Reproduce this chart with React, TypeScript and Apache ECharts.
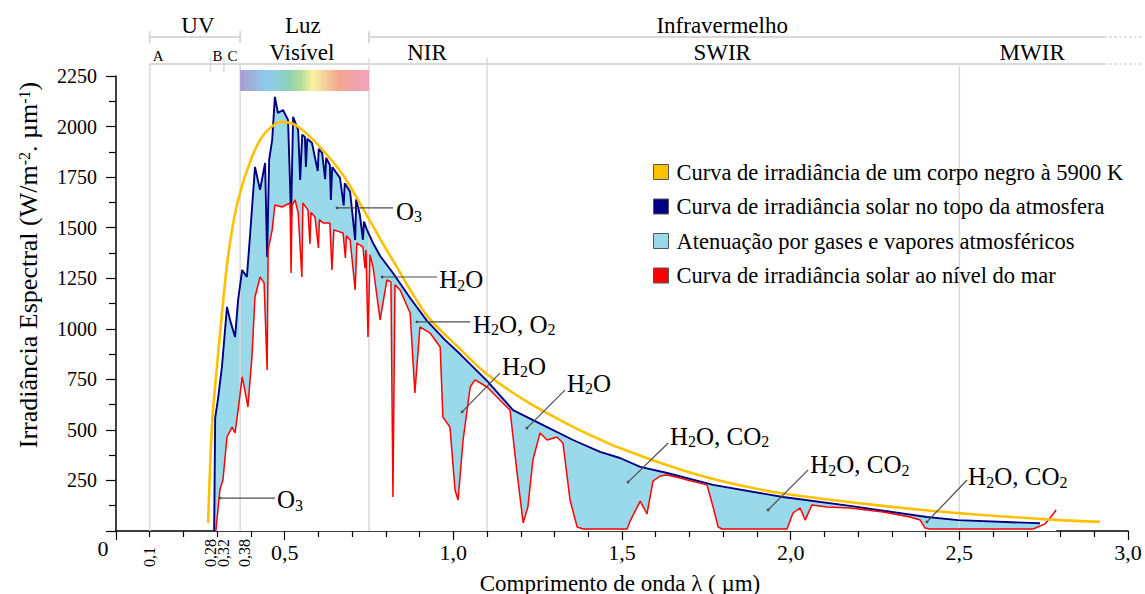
import React, { useEffect, useRef } from 'react';
import * as echarts from 'echarts';

const FONT = '"Liberation Serif", "Times New Roman", Times, serif';

// Wavelength (µm), spectral irradiance (W/m².µm)
const blackbody5900K: [number, number][] = [
  [0.273, 40], [0.285, 534], [0.302, 861], [0.332, 1355], [0.362, 1637], [0.403, 1850],
  [0.442, 1968], [0.492, 2023], [0.531, 2008], [0.575, 1950], [0.62, 1870], [0.673, 1760],
  [0.744, 1560], [0.783, 1445], [0.821, 1338], [0.922, 1065], [1.02, 900], [1.1, 775],
  [1.218, 640], [1.355, 515], [1.435, 452], [1.494, 410], [1.634, 325], [1.782, 252],
  [1.977, 185], [2.226, 133], [2.422, 99], [2.621, 73], [2.799, 54], [2.917, 46],
];

const topOfAtmosphere: [number, number][] = [
  [0.291, 0], [0.294, 559], [0.302, 648], [0.314, 811], [0.329, 1108], [0.338, 1044],
  [0.353, 959], [0.362, 1143], [0.374, 1291], [0.388, 1256], [0.397, 1454], [0.412, 1800],
  [0.427, 1687], [0.442, 1820], [0.448, 1355], [0.454, 1835], [0.463, 1934], [0.471, 2147],
  [0.48, 2067], [0.495, 2082], [0.51, 2033], [0.519, 1553], [0.525, 2048], [0.54, 1983],
  [0.546, 1736], [0.552, 1960], [0.56, 1949], [0.563, 1800], [0.567, 1940], [0.581, 1919],
  [0.598, 1780], [0.601, 1890], [0.611, 1870], [0.62, 1740], [0.623, 1845], [0.634, 1810],
  [0.637, 1637], [0.641, 1800], [0.664, 1746], [0.675, 1610], [0.678, 1720], [0.694, 1677],
  [0.709, 1439], [0.712, 1640], [0.723, 1563], [0.732, 1440], [0.735, 1530], [0.744, 1489],
  [0.762, 1424], [0.783, 1360], [0.821, 1276], [0.872, 1152], [0.922, 1039], [0.975, 945],
  [1.02, 875], [1.1, 742], [1.177, 598], [1.278, 514], [1.355, 450], [1.435, 391],
  [1.494, 361], [1.554, 317], [1.634, 287], [1.77, 228], [1.977, 168], [2.176, 124],
  [2.404, 69], [2.496, 54], [2.71, 40], [2.739, 38],
];

const seaLevel: [number, number][] = [
  [0.296, 0], [0.308, 203], [0.317, 252], [0.329, 465], [0.344, 514], [0.353, 485],
  [0.362, 598], [0.374, 762], [0.382, 697], [0.391, 613], [0.403, 861], [0.412, 1157],
  [0.427, 1256], [0.439, 1227], [0.448, 796], [0.451, 1390], [0.463, 1489], [0.471, 1612],
  [0.492, 1602], [0.516, 1622], [0.519, 1276], [0.522, 1610], [0.531, 1637], [0.54, 1573],
  [0.551, 1256], [0.554, 1622], [0.569, 1588], [0.575, 1420], [0.578, 1575], [0.59, 1553],
  [0.6, 1400], [0.603, 1540], [0.614, 1523], [0.634, 1523], [0.64, 1291], [0.646, 1489],
  [0.673, 1474], [0.68, 1350], [0.683, 1460], [0.694, 1439], [0.709, 1192], [0.714, 1424],
  [0.732, 1405], [0.738, 1300], [0.741, 1390], [0.747, 960], [0.753, 1365], [0.762, 1306],
  [0.783, 1044], [0.803, 1241], [0.815, 1232], [0.821, 168], [0.827, 1217], [0.842, 1192],
  [0.872, 1078], [0.886, 683], [0.901, 1009], [0.931, 979], [0.961, 910], [0.969, 564],
  [0.99, 514], [1.005, 203], [1.014, 153], [1.029, 450], [1.05, 712], [1.064, 747],
  [1.1, 712], [1.138, 648], [1.168, 598], [1.189, 287], [1.207, 40], [1.221, 119],
  [1.236, 351], [1.257, 485], [1.278, 450], [1.307, 465], [1.325, 435], [1.346, 153],
  [1.367, 20], [1.385, 10], [1.515, 10], [1.524, 49], [1.554, 148], [1.574, 84],
  [1.592, 247], [1.613, 272], [1.634, 277], [1.672, 262], [1.702, 248], [1.752, 228],
  [1.77, 119], [1.785, 20], [1.797, 10], [1.989, 10], [2.007, 89], [2.028, 114],
  [2.043, 54], [2.063, 129], [2.108, 119], [2.176, 114], [2.274, 94], [2.354, 69],
  [2.384, 54], [2.398, 15], [2.413, 10], [2.719, 10], [2.754, 35], [2.778, 84], [2.787, 104],
];

const seriesNames = [
  'Curva de irradiância de um corpo negro à 5900 K',
  'Curva de irradiância solar no topo da atmosfera',
  'Atenuação por gases e vapores atmosféricos',
  'Curva de irradiância solar ao nível do mar',
];

const rotatedTickLabels: [number, string][] = [
  [0.1, '0,1'], [0.28, '0,28'], [0.32, '0,32'], [0.38, '0,38'],
];

// spectral regions (row 1 and row 2 of the header)
const regionsTop: [string, number][] = [['UV', 0.243], ['Luz', 0.554], ['Infravermelho', 1.797]];
const regionsSub: [string, number][] = [['Visível', 0.551], ['NIR', 0.922], ['SWIR', 1.797], ['MWIR', 2.716]];
const uvSub: [string, number][] = [['A', 0.125], ['B', 0.301], ['C', 0.345]];
const bandEdges = { uvStart: 0.1, uvB: 0.28, uvC: 0.32, visible: 0.368, nir: 0.75, swir: 1.1, mwir: 2.5 };

// absorption annotations: label, leader start, leader end, label anchor (data units)
const absorptions: { label: string; from: [number, number]; to: [number, number]; at: [number, number] }[] = [
  { label: '{m|O}{s|3}', from: [0.655, 1598], to: [0.821, 1598], at: [0.83, 1578] },
  { label: '{m|H}{s|2}{m|O}', from: [0.789, 1256], to: [0.952, 1256], at: [0.958, 1241] },
  { label: '{m|H}{s|2}{m|O, O}{s|2}', from: [0.892, 1034], to: [1.05, 1034], at: [1.058, 1019] },
  { label: '{m|H}{s|2}{m|O}', from: [1.026, 589], to: [1.138, 781], at: [1.144, 811] },
  { label: '{m|H}{s|2}{m|O}', from: [1.218, 509], to: [1.331, 697], at: [1.337, 727] },
  { label: '{m|H}{s|2}{m|O, CO}{s|2}', from: [1.518, 242], to: [1.637, 435], at: [1.642, 465] },
  { label: '{m|H}{s|2}{m|O, CO}{s|2}', from: [1.933, 104], to: [2.052, 302], at: [2.058, 326] },
  { label: '{m|H}{s|2}{m|O, CO}{s|2}', from: [2.404, 45], to: [2.523, 252], at: [2.526, 267] },
  { label: '{m|O}{s|3}', from: [0.308, 163], to: [0.471, 163], at: [0.477, 153] },
];

const C_YELLOW = '#ffc000';
const C_NAVY = '#000080';
const C_LIGHT = '#99d9ea';
const C_RED = '#ff0000';
const C_GRID = '#d9d9d9';

function buildOption(): any {
  return {
    animation: false,
    grid: { left: 116, right: 17, top: 76, bottom: 63, outerBoundsMode: 'none', containLabel: false },
    xAxis: {
      type: 'value', min: 0, max: 3, interval: 0.5,
      axisLine: { lineStyle: { color: '#000', width: 1.5 } },
      axisTick: { length: 9, lineStyle: { color: '#000', width: 1.2 } },
      minorTick: { show: true, splitNumber: 5, length: 6, lineStyle: { color: '#000', width: 1.2 } },
      splitLine: { show: false },
      axisLabel: {
        margin: 10, fontSize: 22, fontFamily: FONT, color: '#000',
        formatter: (v: number) => (v === 0 ? '' : v.toFixed(1).replace('.', ',')),
      },
    },
    yAxis: {
      type: 'value', min: 0, max: 2250, interval: 250,
      axisLine: { show: true, lineStyle: { color: '#000', width: 1.5 } },
      axisTick: { show: true, length: 10, lineStyle: { color: '#000', width: 1.2 } },
      minorTick: { show: true, splitNumber: 2, length: 7, lineStyle: { color: '#000', width: 1.2 } },
      splitLine: { show: false },
      axisLabel: {
        margin: 19, fontSize: 20, fontFamily: FONT, color: '#000',
        formatter: (v: number) => (v === 0 ? '' : String(v)),
      },
    },
    legend: {
      orient: 'vertical', left: 653, top: 160.5, padding: 0,
      itemWidth: 15, itemHeight: 15, itemGap: 11.5,
      selectedMode: false,
      textStyle: { fontSize: 22.5, fontFamily: FONT, color: '#000', lineHeight: 15, padding: [0, 0, 0, 3] },
      data: [
        { name: seriesNames[0], icon: 'rect', itemStyle: { color: C_YELLOW, borderColor: '#555', borderWidth: 1 } },
        { name: seriesNames[1], icon: 'rect', itemStyle: { color: C_NAVY, borderColor: '#555', borderWidth: 1 } },
        { name: seriesNames[2], icon: 'rect', itemStyle: { color: C_LIGHT, borderColor: '#555', borderWidth: 1 } },
        { name: seriesNames[3], icon: 'rect', itemStyle: { color: C_RED, borderColor: '#555', borderWidth: 1 } },
      ],
    },
    series: [
      {
        name: seriesNames[2], type: 'line', data: topOfAtmosphere, symbol: 'none', z: 1, silent: true,
        itemStyle: { color: C_LIGHT }, lineStyle: { width: 0, color: C_LIGHT },
        areaStyle: { color: C_LIGHT, opacity: 1 },
      },
      {
        name: 'fill-sea', type: 'line', data: seaLevel, symbol: 'none', z: 1, silent: true,
        lineStyle: { width: 0, color: '#fff' }, areaStyle: { color: '#fff', opacity: 1 },
      },
      {
        name: seriesNames[1], type: 'line', data: topOfAtmosphere, symbol: 'none', z: 3,
        itemStyle: { color: C_NAVY }, lineStyle: { width: 1.9, color: C_NAVY },
      },
      {
        name: seriesNames[3], type: 'line', data: seaLevel, symbol: 'none', z: 3,
        itemStyle: { color: C_RED }, lineStyle: { width: 1.5, color: C_RED },
      },
      {
        name: seriesNames[0], type: 'line', data: blackbody5900K, symbol: 'none', z: 4,
        smooth: 0.3,
        itemStyle: { color: C_YELLOW }, lineStyle: { width: 2.6, color: C_YELLOW },
      },
    ],
  };
}

function buildGraphic(chart: any): any[] {
  const P = (l: number, v: number) => chart.convertToPixel({ gridIndex: 0 }, [l, v]) as number[];
  const X = (l: number) => P(l, 0)[0];
  const yBottom = P(0, 0)[1];
  const g: any[] = [];
  const line = (x1: number, y1: number, x2: number, y2: number, color: string, width: number, z = 2, dash?: number[]) =>
    g.push({ type: 'line', z, silent: true, shape: { x1, y1, x2, y2 }, style: { stroke: color, lineWidth: width, lineDash: dash } });
  const text = (t: string, x: number, y: number, size: number, extra: any = {}) =>
    g.push({ type: 'text', z: 5, x, y, silent: true, ...extra,
      style: { text: t, fontSize: size, fontFamily: FONT, fill: '#000', align: 'center', verticalAlign: 'middle', ...(extra.style || {}) } });

  const ROW1 = 37, ROW2 = 64;
  const solidEnd = X(2.93), dotEnd = X(3.04);
  // header rows
  line(X(bandEdges.uvStart), ROW1, X(bandEdges.visible), ROW1, C_GRID, 2);
  line(X(bandEdges.nir), ROW1, solidEnd, ROW1, C_GRID, 2);
  line(solidEnd, ROW1, dotEnd, ROW1, C_GRID, 2, 2, [2, 3]);
  line(X(bandEdges.uvStart), ROW2, solidEnd, ROW2, C_GRID, 2);
  line(solidEnd, ROW2, dotEnd, ROW2, C_GRID, 2, 2, [2, 3]);
  for (const e of [bandEdges.uvStart, bandEdges.visible, bandEdges.nir]) line(X(e), 31, X(e), 43, C_GRID, 2);
  for (const e of [bandEdges.uvB, bandEdges.uvC]) line(X(e), 57, X(e), 72, C_GRID, 1.5);
  line(X(bandEdges.uvStart), ROW2, X(bandEdges.uvStart), yBottom, C_GRID, 1.5);
  line(X(bandEdges.visible), ROW2, X(bandEdges.visible), yBottom, C_GRID, 1.5);
  line(X(bandEdges.nir), 58, X(bandEdges.nir), yBottom, C_GRID, 1.5);
  line(X(bandEdges.swir), 58, X(bandEdges.swir), yBottom, C_GRID, 1.5);
  line(X(bandEdges.mwir), 66, X(bandEdges.mwir), yBottom, C_GRID, 1.5);

  // visible spectrum colour bar
  g.push({
    type: 'rect', z: 2, silent: true,
    shape: { x: X(bandEdges.visible), y: 70, width: X(bandEdges.nir) - X(bandEdges.visible), height: 21 },
    style: {
      fill: new echarts.graphic.LinearGradient(0, 0, 1, 0, [
        { offset: 0, color: '#a89dcf' }, { offset: 0.1, color: '#9cb3df' }, { offset: 0.2, color: '#8fcbeb' },
        { offset: 0.3, color: '#8fcfd6' }, { offset: 0.38, color: '#90d0b0' }, { offset: 0.48, color: '#b8dd9c' },
        { offset: 0.56, color: '#f8f2a0' }, { offset: 0.66, color: '#f6cf9c' }, { offset: 0.77, color: '#f2a690' },
        { offset: 0.88, color: '#f0a2a8' }, { offset: 1, color: '#f2a5bb' },
      ]),
    },
  });

  for (const [t, l] of regionsTop) text(t, X(l), 25, 23);
  for (const [t, l] of regionsSub) text(t, X(l), 52, 23);
  for (const [t, l] of uvSub) text(t, X(l), 56, 15);

  // special rotated tick labels
  for (const [v, t] of rotatedTickLabels) {
    g.push({ type: 'text', z: 5, silent: true, x: X(v), y: 567, rotation: Math.PI / 2,
      style: { text: t, fontSize: 16, fontFamily: FONT, fill: '#000', align: 'left', verticalAlign: 'middle' } });
  }
  text('0', X(0) - 13, 548, 22);

  // axis titles
  text('Comprimento de onda λ ( µm)', 620, 583, 23);
  g.push({
    type: 'text', z: 5, silent: true, x: 28, y: 265, rotation: Math.PI / 2,
    style: {
      text: '{m|Irradiância Espectral (W/m}{p|-2}{m|. µm}{p|-1}{m|)}',
      fontFamily: FONT, fill: '#000', align: 'center', verticalAlign: 'middle',
      rich: {
        m: { fontSize: 26, lineHeight: 27, padding: [3, 0, 0, 0], verticalAlign: 'bottom', fontFamily: FONT, fill: '#000' },
        p: { fontSize: 16, lineHeight: 16, padding: [2, 0, 0, 0], verticalAlign: 'top', fontFamily: FONT, fill: '#000' },
      },
    },
  });

  // absorption annotations
  for (const a of absorptions) {
    const [x1, y1] = P(a.from[0], a.from[1]);
    const [x2, y2] = P(a.to[0], a.to[1]);
    const [tx, ty] = P(a.at[0], a.at[1]);
    line(x1, y1, x2, y2, '#4d4d4d', 1.2, 5);
    g.push({ type: 'circle', z: 5, silent: true, shape: { cx: x1, cy: y1, r: 1.4 }, style: { fill: '#4d4d4d' } });
    g.push({
      type: 'text', z: 5, silent: true, x: tx, y: ty,
      style: {
        text: a.label, fontFamily: FONT, fill: '#000', align: 'left', verticalAlign: 'middle',
        rich: {
          m: { fontSize: 25, lineHeight: 26, verticalAlign: 'top', fontFamily: FONT, fill: '#000' },
          s: { fontSize: 16, lineHeight: 17, padding: [13, 0, 0, 0], verticalAlign: 'bottom', fontFamily: FONT, fill: '#000' },
        },
      },
    });
  }
  return g;
}

export default function App() {
  const ref = useRef<HTMLDivElement>(null);
  useEffect(() => {
    document.body.style.margin = '0';
    const chart = echarts.init(ref.current!, null, { renderer: 'svg' });
    chart.setOption(buildOption());
    chart.setOption({ graphic: buildGraphic(chart) });
    return () => chart.dispose();
  }, []);
  return <div ref={ref} style={{ width: 1145, height: 594, background: '#fff' }} />;
}
